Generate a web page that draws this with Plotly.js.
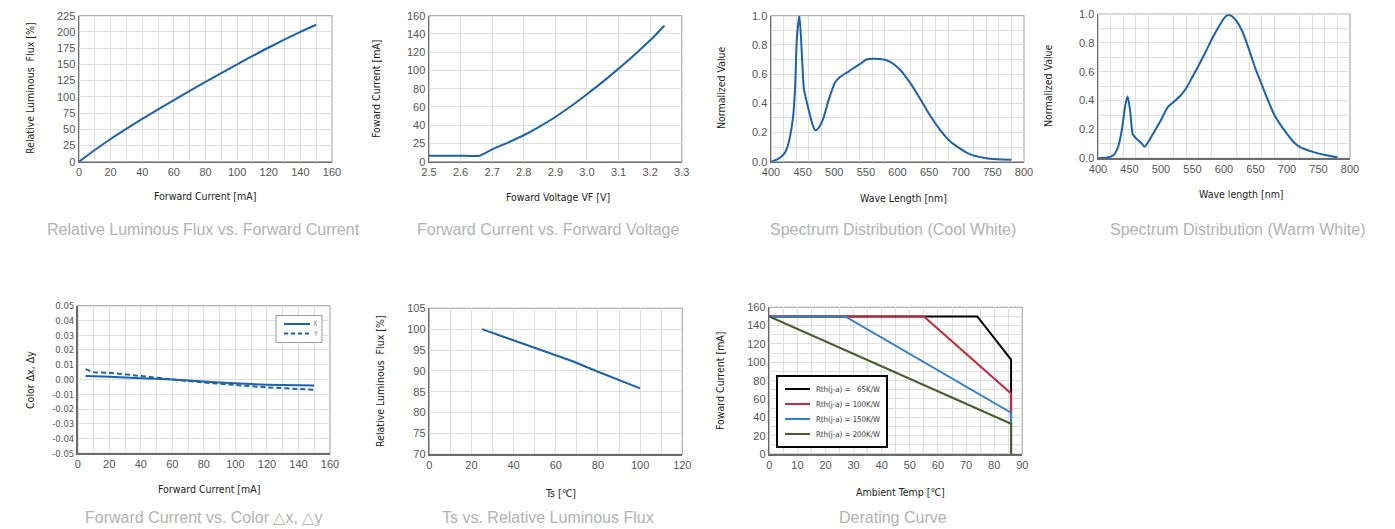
<!DOCTYPE html>
<html><head><meta charset="utf-8">
<script src="https://cdn.plot.ly/plotly-3.0.1.min.js"></script>
<style>html,body{margin:0;padding:0;background:#fff;}#c{width:1395px;height:529px;}</style>
</head><body><div id="c"></div>
<script>
// ---- Data ----
const fluxCurrent = [0, 10, 20, 40, 60, 80, 100, 120, 140, 150];
const fluxRel = [0, 18, 35, 66, 95, 123, 150, 176, 200, 211];

const fvVoltage = [2.5, 2.6, 2.66, 2.7, 2.75, 2.8, 2.85, 2.9, 2.95, 3.0, 3.05, 3.1, 3.15, 3.2, 3.22, 3.245];
const fvCurrent = [6.6, 6.6, 6.6, 13.5, 21, 29, 38.5, 49, 61, 74, 87.5, 102, 117, 133, 140, 149];
const fvTickVals = [0, 20, 40, 60, 80, 100, 120, 140, 160];
const fvTickText = ['0', '25', '40', '60', '80', '100', '120', '140', '160'];

const coolWl = [400, 410, 420, 425, 430, 435, 438, 441, 445, 449, 452, 456, 461, 466, 470, 475, 483, 491, 501, 509, 520, 530, 541, 551, 562, 578, 588, 604, 620, 636, 651, 667, 683, 699, 715, 736, 757, 780];
const coolVal = [0, 0.016, 0.05, 0.09, 0.17, 0.31, 0.5, 0.85, 1.0, 0.72, 0.5, 0.42, 0.33, 0.25, 0.215, 0.23, 0.3, 0.42, 0.54, 0.58, 0.61, 0.64, 0.67, 0.70, 0.705, 0.70, 0.685, 0.63, 0.54, 0.43, 0.32, 0.22, 0.14, 0.09, 0.05, 0.027, 0.016, 0.014];

const warmWl = [400, 415, 425, 432, 438, 443, 447, 451, 455, 460, 470, 474, 480, 490, 500, 510, 520, 530, 540, 550, 560, 570, 580, 590, 600, 605, 610, 620, 630, 640, 650, 660, 670, 680, 690, 700, 710, 720, 740, 760, 780];
const warmVal = [0, 0.005, 0.023, 0.08, 0.2, 0.36, 0.43, 0.33, 0.17, 0.14, 0.1, 0.08, 0.115, 0.19, 0.265, 0.35, 0.39, 0.43, 0.485, 0.565, 0.645, 0.73, 0.82, 0.9, 0.97, 0.99, 0.99, 0.95, 0.87, 0.75, 0.62, 0.51, 0.40, 0.30, 0.23, 0.17, 0.115, 0.08, 0.046, 0.023, 0.007];

const colorCurrent = [5, 10, 20, 40, 60, 80, 100, 120, 140, 150];
const colorDx = [0.0024, 0.0022, 0.0018, 0.0009, 0.0, -0.0013, -0.0026, -0.0035, -0.0039, -0.004];
const colorDy = [0.007, 0.005, 0.0045, 0.0024, 0.0, -0.002, -0.0037, -0.0053, -0.0064, -0.0069];
const colorTickVals = [-0.05, -0.04, -0.03, -0.02, -0.01, 0, 0.01, 0.02, 0.03, 0.04, 0.05];
const colorTickText = ['-0.05', '-0.04', '-0.03', '-0.02', '-0.01', '0.00', '0.01', '0.02', '0.03', '0.04', '0.05'];
const colorNames = ['X', 'Y'];

const tsTemp = [25, 50, 68, 80, 100];
const tsFlux = [100, 95.6, 92.3, 89.8, 85.8];

const der65T = [0, 74, 86, 86];
const der65I = [150, 150, 103, 0];
const der100T = [0, 55, 86, 86];
const der100I = [150, 150, 66, 0];
const der150T = [0, 27, 86, 86];
const der150I = [150, 150, 45, 0];
const der200T = [0, 86, 86];
const der200I = [150, 33, 0];
const derNames = ['Rth(j-a) =\u00a0\u00a0\u00a065K/W', 'Rth(j-a) = 100K/W', 'Rth(j-a) = 150K/W', 'Rth(j-a) = 200K/W'];
const derColors = ['#000000', '#c8283a', '#2f7fd0', '#4a5e2c'];

const chartTitles = ['Relative Luminous Flux vs. Forward Current', 'Forward Current vs. Forward Voltage', 'Spectrum Distribution (Cool White)', 'Spectrum Distribution (Warm White)', 'Forward Current vs. Color \u25b3x, \u25b3y', 'Ts vs. Relative Luminous Flux', 'Derating Curve'];
const xTitles = ['Forward Current [mA]', 'Foward Voltage VF [V]', 'Wave Length [nm]', 'Wave length [nm]', 'Forward Current [mA]', 'Ts [\u2103]', 'Ambient Temp [\u2103]'];
const yTitles = ['Relative Luminous  Flux [%]', 'Foward Current [mA]', 'Normalized Value', 'Normalized Value', 'Color \u0394x, \u0394y', 'Relative Luminous  Flux [%]', 'Foward Current [mA]'];

// ---- Layout helpers ----
const W = 1395, H = 529;
const boxes = [
  [79, 332, 15.7, 161.7],
  [429, 681.7, 15.7, 161.7],
  [771, 1024, 15.7, 161.7],
  [1098, 1350, 14, 158.3],
  [77.7, 330, 305.7, 453.3],
  [429.3, 682.3, 308.3, 454.3],
  [769.3, 1022.3, 307.3, 454]
];
const xTitlePos = [[205, 196], [558, 197], [903, 198], [1241, 194], [209, 489], [560, 493], [900, 492]];
const yTitlePos = [[30, 88], [376, 88], [721, 88], [1048, 86], [30, 380], [380, 381], [720, 381]];
const titlePos = [[203, 230], [548, 230], [893, 230], [1237, 230], [203, 517], [548, 517], [893, 517]];

const BLUE = '#1b62ad';
const GRID = '#dedede';
const NARROW = 'Liberation Sans Narrow, DejaVu Sans Condensed, sans-serif';
const tickFont = {family: 'Liberation Sans, Arial, sans-serif', size: 11, color: '#555'};

function ax(i, opts, isX) {
  const b = boxes[i];
  const dom = isX ? [b[0] / W, b[1] / W] : [1 - b[3] / H, 1 - b[2] / H];
  return Object.assign({
    domain: dom,
    anchor: (isX ? 'y' : 'x') + (i === 0 ? '' : (i + 1)),
    showline: true, linecolor: '#6b6b6b', linewidth: 1.5, mirror: false,
    showgrid: true, gridcolor: GRID, gridwidth: 1,
    zeroline: false, ticks: '', tickfont: tickFont,
    fixedrange: true
  }, opts);
}

const layout = {
  width: W, height: H,
  margin: {l: 0, r: 0, t: 0, b: 0},
  paper_bgcolor: '#fff', plot_bgcolor: '#fff',
  showlegend: false,
  font: {family: 'Liberation Sans, Arial, sans-serif'},
  xaxis: ax(0, {range: [0, 160], dtick: 20, minor: {dtick: 10, showgrid: true, gridcolor: GRID}}, true),
  yaxis: ax(0, {range: [0, 225], dtick: 25}, false),
  xaxis2: ax(1, {range: [2.5, 3.3], dtick: 0.1, tickformat: '.1f'}, true),
  yaxis2: ax(1, {range: [0, 160], tickvals: fvTickVals, ticktext: fvTickText}, false),
  xaxis3: ax(2, {range: [400, 800], dtick: 50, showgrid: false, minor: {dtick: 20, showgrid: true, gridcolor: GRID}}, true),
  yaxis3: ax(2, {range: [0, 1], dtick: 0.2, tickformat: '.1f', minor: {dtick: 0.1, showgrid: true, gridcolor: GRID}}, false),
  xaxis4: ax(3, {range: [400, 800], dtick: 50, showgrid: false, minor: {dtick: 20, showgrid: true, gridcolor: GRID}}, true),
  yaxis4: ax(3, {range: [0, 1], dtick: 0.2, tickformat: '.1f', minor: {dtick: 0.1, showgrid: true, gridcolor: GRID}}, false),
  xaxis5: ax(4, {range: [0, 160], dtick: 20, minor: {dtick: 10, showgrid: true, gridcolor: GRID}}, true),
  yaxis5: ax(4, {range: [-0.05, 0.05], tickvals: colorTickVals, ticktext: colorTickText, tickfont: {family: NARROW, size: 9.5, color: '#555'}}, false),
  xaxis6: ax(5, {range: [0, 120], dtick: 20, minor: {dtick: 10, showgrid: true, gridcolor: GRID}}, true),
  yaxis6: ax(5, {range: [70, 105], dtick: 5}, false),
  xaxis7: ax(6, {range: [0, 90], dtick: 10, minor: {dtick: 5, showgrid: true, gridcolor: GRID}}, true),
  yaxis7: ax(6, {range: [0, 160], dtick: 20, minor: {dtick: 10, showgrid: true, gridcolor: GRID}}, false),
  shapes: [],
  annotations: []
};

function px(x) { return x / W; }
function py(y) { return 1 - y / H; }

boxes.forEach(function (b, i) {
  const s = i === 0 ? '' : (i + 1);
  layout.shapes.push({type: 'rect', xref: 'x' + s + ' domain', yref: 'y' + s + ' domain', x0: 0, x1: 1, y0: 0, y1: 1, line: {color: '#b0b0b0', width: 1.2}, layer: 'below'});
  layout.annotations.push({text: chartTitles[i], xref: 'paper', yref: 'paper', x: px(titlePos[i][0]), y: py(titlePos[i][1]), xanchor: 'center', yanchor: 'middle', showarrow: false, font: {family: 'Liberation Sans, Arial, sans-serif', size: 16, color: '#b2b2b2'}});
  layout.annotations.push({text: xTitles[i], xref: 'paper', yref: 'paper', x: px(xTitlePos[i][0]), y: py(xTitlePos[i][1]), xanchor: 'center', yanchor: 'middle', showarrow: false, font: {family: NARROW, size: 10.5, color: '#222'}});
  layout.annotations.push({text: yTitles[i], xref: 'paper', yref: 'paper', x: px(yTitlePos[i][0]), y: py(yTitlePos[i][1]), xanchor: 'center', yanchor: 'middle', textangle: -90, showarrow: false, font: {family: NARROW, size: 10.5, color: '#222'}});
});

// Legend for Color chart (drawn as a key box)
layout.shapes.push({type: 'rect', xref: 'paper', yref: 'paper', x0: px(276), x1: px(322), y0: py(342.5), y1: py(315.5), line: {color: '#9a9a9a', width: 1}, fillcolor: '#fff', layer: 'above'});
[[324, 'solid'], [333.5, 'dash']].forEach(function (it, k) {
  layout.shapes.push({type: 'line', xref: 'paper', yref: 'paper', x0: px(284), x1: px(310), y0: py(it[0]), y1: py(it[0]), line: {color: BLUE, width: 2, dash: it[1] === 'dash' ? '4px,3px' : 'solid'}, layer: 'above'});
  layout.annotations.push({text: colorNames[k], xref: 'paper', yref: 'paper', x: px(311), y: py(it[0]), xanchor: 'left', yanchor: 'middle', showarrow: false, font: {family: NARROW, size: 7, color: '#777'}});
});

// Legend for Derating chart
layout.shapes.push({type: 'rect', xref: 'paper', yref: 'paper', x0: px(777), x1: px(887), y0: py(447), y1: py(376), line: {color: '#000', width: 2}, fillcolor: '#fff', layer: 'above'});
[389, 404, 419, 434].forEach(function (yy, k) {
  layout.shapes.push({type: 'line', xref: 'paper', yref: 'paper', x0: px(785), x1: px(810), y0: py(yy), y1: py(yy), line: {color: derColors[k], width: 2}, layer: 'above'});
  layout.annotations.push({text: derNames[k], xref: 'paper', yref: 'paper', x: px(814), y: py(yy), xanchor: 'left', yanchor: 'middle', showarrow: false, font: {family: NARROW, size: 7.8, color: '#333'}});
});

const ln = {color: BLUE, width: 2, shape: 'spline', smoothing: 0.6};
const traces = [
  {x: fluxCurrent, y: fluxRel, xaxis: 'x', yaxis: 'y', mode: 'lines', name: 'Relative Luminous Flux', line: ln},
  {x: fvVoltage, y: fvCurrent, xaxis: 'x2', yaxis: 'y2', mode: 'lines', name: 'Forward Current', line: ln},
  {x: coolWl, y: coolVal, xaxis: 'x3', yaxis: 'y3', mode: 'lines', name: 'Cool White', line: ln},
  {x: warmWl, y: warmVal, xaxis: 'x4', yaxis: 'y4', mode: 'lines', name: 'Warm White', line: ln},
  {x: colorCurrent, y: colorDx, xaxis: 'x5', yaxis: 'y5', mode: 'lines', name: colorNames[0], line: {color: BLUE, width: 2, shape: 'spline', smoothing: 0.6}},
  {x: colorCurrent, y: colorDy, xaxis: 'x5', yaxis: 'y5', mode: 'lines', name: colorNames[1], line: {color: BLUE, width: 2, dash: '5px,3px', shape: 'spline', smoothing: 0.6}},
  {x: tsTemp, y: tsFlux, xaxis: 'x6', yaxis: 'y6', mode: 'lines', name: 'Ts', line: {color: BLUE, width: 2}},
  {x: der65T, y: der65I, xaxis: 'x7', yaxis: 'y7', mode: 'lines', name: derNames[0], line: {color: derColors[0], width: 2}},
  {x: der100T, y: der100I, xaxis: 'x7', yaxis: 'y7', mode: 'lines', name: derNames[1], line: {color: derColors[1], width: 2}},
  {x: der150T, y: der150I, xaxis: 'x7', yaxis: 'y7', mode: 'lines', name: derNames[2], line: {color: derColors[2], width: 2}},
  {x: der200T, y: der200I, xaxis: 'x7', yaxis: 'y7', mode: 'lines', name: derNames[3], line: {color: derColors[3], width: 2}}
];

Plotly.newPlot('c', traces, layout, {displayModeBar: false, staticPlot: true});
</script>
</body></html>
